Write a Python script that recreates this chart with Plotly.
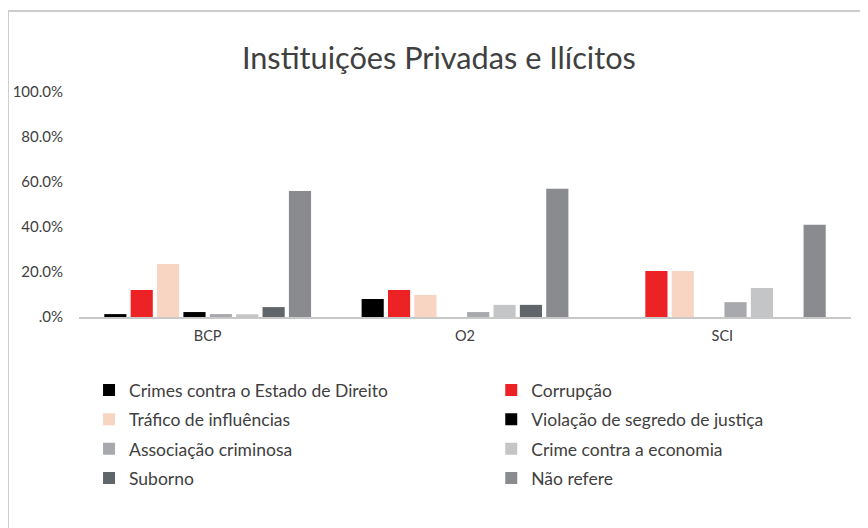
import plotly.graph_objects as go

categories = ["BCP", "O2", "SCI"]
series_names = [
    "Crimes contra o Estado de Direito",
    "Corrupção",
    "Tráfico de influências",
    "Violação de segredo de justiça",
    "Associação criminosa",
    "Crime contra a economia",
    "Suborno",
    "Não refere",
]
crimes_estado = [1.3, 8.0, 0.0]
corrupcao = [12.0, 12.0, 20.5]
trafico = [23.6, 9.8, 20.5]
violacao = [2.2, 0.0, 0.0]
associacao = [1.3, 2.2, 6.6]
economia = [1.2, 5.4, 12.9]
suborno = [4.4, 5.4, 0.0]
nao_refere = [56.0, 57.0, 41.0]
series_values = [crimes_estado, corrupcao, trafico, violacao,
                 associacao, economia, suborno, nao_refere]
colors = ["#000000", "#ED2224", "#F8D4C2", "#000000",
          "#A7A9AC", "#C4C5C7", "#5F6569", "#898B8F"]
tick_vals = [0, 20, 40, 60, 80, 100]
tick_text = [".0%", "20.0%", "40.0%", "60.0%", "80.0%", "100.0%"]

FONT = "Lato"
TXT = "#404040"

fig = go.Figure()
for i, (name, vals, col) in enumerate(zip(series_names, series_values, colors)):
    fig.add_trace(go.Bar(
        x=categories, y=vals, name=name,
        marker=dict(color=col, line=dict(width=0)),
        legend="legend" if i % 2 == 0 else "legend2",
        legendgroup=f"g{i}",
    ))

leg_common = dict(
    orientation="v", traceorder="grouped", tracegroupgap=3.6,
    font=dict(family=FONT, size=17.5, color=TXT),
    bgcolor="rgba(0,0,0,0)", borderwidth=0,
    xanchor="left", yanchor="top", itemclick=False,
)

fig.update_layout(
    width=860, height=520,
    margin=dict(l=71, r=17, t=84, b=211, autoexpand=False),
    paper_bgcolor="white", plot_bgcolor="white",
    barmode="group", bargap=0.18, bargroupgap=0.16,
    title=dict(text="Instituições Privadas e Ilícitos",
               font=dict(family=FONT, size=30.7, color=TXT),
               x=0.501, xanchor="center", y=0.904, yanchor="middle"),
    xaxis=dict(showline=True, linecolor="#C8C8C8", linewidth=2,
               ticks="", showgrid=False, zeroline=False, automargin=False,
               tickfont=dict(family=FONT, size=14.5, color=TXT),
               ticklabelstandoff=5),
    yaxis=dict(range=[0, 100], tickvals=tick_vals, ticktext=tick_text,
               showline=False, showgrid=False, zeroline=False, ticks="",
               automargin=False,
               tickfont=dict(family=FONT, size=15, color=TXT),
               ticklabelstandoff=15),
    legend=dict(x=0.013, y=-0.245, **leg_common),
    legend2=dict(x=0.534, y=-0.245, **leg_common),
    showlegend=True,
    shapes=[
        dict(type="line", xref="paper", yref="paper",
             x0=-0.092, x1=-0.092, y0=-1.0, y1=1.36,
             line=dict(color="#CCCCCC", width=2)),
        dict(type="line", xref="paper", yref="paper",
             x0=-0.092, x1=1.1, y0=1.36, y1=1.36,
             line=dict(color="#CCCCCC", width=2)),
    ],
)

fig.write_html("out.html")
